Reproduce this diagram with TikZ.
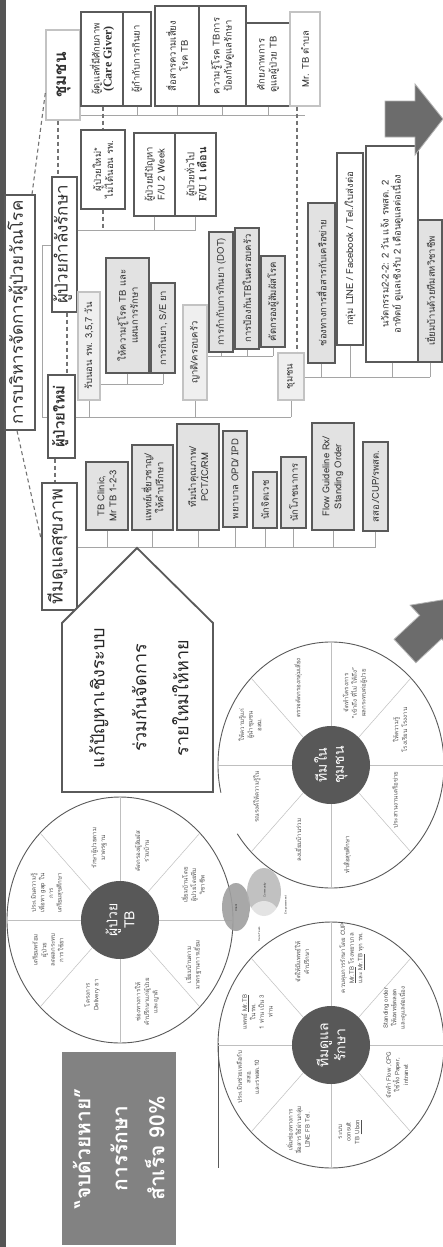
\documentclass[tikz,border=0pt]{standalone}
\usepackage{fontspec}
\setmainfont[Script=Thai]{Loma}
\newfontfamily\latinserif{Liberation Serif}
\usetikzlibrary{calc}
\definecolor{framegray}{RGB}{85,85,85}
\definecolor{boxline}{RGB}{90,90,90}
\definecolor{lightline}{RGB}{195,195,195}
\definecolor{boxgray}{RGB}{226,226,226}
\definecolor{linkgray}{RGB}{165,165,165}
\definecolor{hubgray}{RGB}{88,88,88}
\definecolor{arrowgray}{RGB}{108,108,108}
\definecolor{okgray}{RGB}{130,130,130}
\definecolor{textgray}{RGB}{50,50,50}
\begin{document}
\begin{tikzpicture}[x=1pt,y=-1pt,
  tbox/.style={rotate=90,draw=boxline,line width=1.3pt,fill=white,inner sep=1pt,align=center,text=textgray,font=\fontsize{9.5}{12}\selectfont},
  gbox/.style={tbox,fill=boxgray},
  lbox/.style={tbox,draw=lightline,fill=boxgray!55},
  topbox/.style={tbox,line width=1.4pt,text height=9pt,text depth=3pt,font=\fontsize{17}{19}\selectfont},
  link/.style={draw=linkgray,line width=0.9pt},
  dlink/.style={draw=boxline!85,line width=1.1pt,dash pattern=on 4pt off 3pt},
  rim/.style={draw=boxline,line width=0.9pt},
  spoke/.style={draw=gray!50,line width=0.5pt},
  hub/.style={circle,fill=hubgray,text=white,rotate=90,align=center,inner sep=0pt,minimum size=78pt,font=\fontsize{14}{17}\selectfont},
  wtxt/.style={rotate=90,align=center,inner sep=0pt,text=textgray!85,font=\fontsize{6.1}{8.6}\selectfont},
  vtxt/.style={rotate=90,inner sep=0pt,text=textgray,font=\fontsize{2.8}{3.2}\selectfont},
  bigarrow/.style={fill=arrowgray,draw=gray!60,line width=0.8pt}]
  \useasboundingbox (0,0) rectangle (442,1247);
  \fill[white] (0,0) rectangle (442,1247);
  \fill[framegray] (0,0) rectangle (6,1247);

  % title and main groups
  \node[topbox,minimum width=235,minimum height=30] (mgmt) at (20,312.5) {การบริหารจัดการผู้ป่วยวัณโรค};
  \node[topbox,draw=lightline,minimum width=90,minimum height=34,font=\bfseries\fontsize{17}{19}\selectfont] (comm) at (63,75) {ชุมชน};
  \node[topbox,minimum width=135,minimum height=25] (ontx) at (64.5,244.5) {ผู้ป่วยกำลังรักษา};
  \node[topbox,minimum width=83,minimum height=27,font=\bfseries\fontsize{15}{17}\selectfont] (newpt) at (61.5,416.5) {ผู้ป่วยใหม่};
  \node[topbox,minimum width=127,minimum height=35,font=\fontsize{18}{20}\selectfont] (hteam) at (59.5,546.5) {ทีมดูแลสุขภาพ};
  \draw[dlink] (mgmt.east -| 32,0) -- (comm.north |- 0,93);
  \draw[dlink] (mgmt.west -| 17,0) -- (hteam.north |- 0,540);
  \draw[dlink] (comm.west -| 58,0) -- (ontx.east -| 58,0);
  \draw[dlink] (ontx.west -| 67,0) -- (newpt.east -| 67,0);
  \draw[dlink] (newpt.west -| 55,0) -- (hteam.east -| 55,0);

  % community
  \node[tbox,minimum width=94,minimum height=42] (cg1) at (102,59) {ผู้ดูแลที่มีศักยภาพ\\{\latinserif\bfseries\fontsize{12}{13}\selectfont (Care Giver)}};
  \node[tbox,minimum width=94,minimum height=28] (cg2) at (137,59) {ผู้กำกับการกินยา};
  \node[tbox,minimum width=100,minimum height=44] (cg3) at (177,56) {สื่อสารความเสี่ยง\\โรค TB};
  \node[tbox,minimum width=100,minimum height=47] (cg4) at (222.5,56) {ความรู้โรค TBการ\\ป้องกัน/ดูแลรักษา};
  \node[tbox,minimum width=83,minimum height=44] (cg5) at (268,64.5) {ศักยภาพการ\\ดูแลผู้ป่วย TB};
  \node[tbox,draw=lightline,minimum width=94,minimum height=30] (cg6) at (305,59) {Mr. TB ตำบล};
  \draw[link] (comm.south |- 0,115) -- (cg6.west |- 0,115);
  \foreach \n in {cg2,cg3,cg4,cg5} \draw[link] (\n.west) -- (\n.west |- 0,115);

  % patients on treatment
  \node[tbox,minimum width=79,minimum height=44] (pt1) at (103,169.5) {ผู้ป่วยใหม่*\\ไม่ได้นอน รพ.};
  \node[tbox,minimum width=83,minimum height=41] (pt2) at (154.5,174.5) {ผู้ป่วยมีปัญหา\\F/U 2 Week};
  \node[tbox,minimum width=83,minimum height=41] (pt3) at (195.5,174.5) {ผู้ป่วยทั่วไป\\{\fontsize{11}{13}\selectfont\bfseries{\latinserif F/U 1} เดือน}};
  \draw[link] (ontx.south |- 0,230) -- (pt3.west |- 0,230);
  \foreach \n in {pt2,pt3} \draw[link] (\n.west) -- (\n.west |- 0,230);
  \draw[dlink] (cg1.west -| 103,0) -- (pt1.east);
  \draw[dlink] (pt1.west) -- (pt1.west |- 0,230);
  \draw[dlink] (cg6.west -| 297,0) -- (297,353);
  \draw[link] (ontx.north |- 0,245) -- (42,245) -- (42,417) -- (newpt.north |- 0,417);

  % new patients
  \node[lbox,minimum width=108,minimum height=22] (nw1) at (89,346) {รับนอน รพ. 3,5,7 วัน};
  \node[lbox,minimum width=95,minimum height=24] (nw2) at (195,352.5) {ญาติ/ครอบครัว};
  \node[lbox,minimum width=47,minimum height=26] (nw3) at (291,376.5) {ชุมชน};
  \draw[link] (newpt.south |- 0,417) -- (nw3.west |- 0,417);
  \foreach \n in {nw1,nw2,nw3} \draw[link] (\n.west) -- (\n.west |- 0,417);

  \node[gbox,minimum width=115,minimum height=43] (nw11) at (127.5,315.5) {ให้ความรู้โรค TB และ\\แผนการรักษา};
  \node[gbox,minimum width=90,minimum height=24] (nw12) at (163,328) {การกินยา, S/E ยา};
  \draw[link] (nw1.south |- 0,384) -- (nw12.west |- 0,384);
  \foreach \n in {nw11,nw12} \draw[link] (\n.west) -- (\n.west |- 0,384);

  \node[gbox,minimum width=120,minimum height=24] (nw21) at (221,292) {การกำกับการกินยา (DOT)};
  \node[gbox,minimum width=121,minimum height=24] (nw22) at (247,288.5) {การป้องกันTBในครอบครัว};
  \node[gbox,minimum width=91,minimum height=24] (nw23) at (273,301.5) {คัดกรองผู้สัมผัสโรค};
  \draw[link] (nw2.south |- 0,356) -- (nw23.west |- 0,356);
  \foreach \n in {nw21,nw22,nw23} \draw[link] (\n.west) -- (\n.west |- 0,356);

  \node[gbox,minimum width=160,minimum height=27] (nw31) at (321.5,283) {ช่องทางการสื่อสารกับเครือข่าย};
  \node[tbox,minimum width=192,minimum height=26] (nw32) at (350,249) {กลุ่ม LINE / Facebook / Tel./ใบส่งต่อ};
  \node[tbox,minimum width=216,minimum height=52] (nw33) at (392,254) {นวัตกรรม2-2-2: 2 วัน แจ้ง รพสต. 2\\อาทิตย์ ดูแลเชิงรับ 2 เดือนดูแลต่อเนื่อง};
  \node[gbox,minimum width=142,minimum height=24] (nw34) at (430,291) {เยี่ยมบ้านด้วยทีมสหวิชาชีพ};
  \draw[link] (nw3.south |- 0,377) -- (nw34.west |- 0,377);
  \foreach \n in {nw31,nw32,nw33,nw34} \draw[link] (\n.west) -- (\n.west |- 0,377);

  % health team
  \node[gbox,minimum width=68,minimum height=42] (ht1) at (107,496) {TB Clinic,\\Mr TB 1-2-3};
  \node[gbox,minimum width=85,minimum height=41] (ht2) at (152.5,487.5) {แพทย์เชี่ยวชาญ/\\ให้คำปรึกษา};
  \node[gbox,minimum width=106,minimum height=42] (ht3) at (198,477) {ทีมนำคุณภาพ/\\PCT/IC/RM};
  \node[gbox,minimum width=96,minimum height=24] (ht4) at (235,479) {พยาบาล OPD/ IPD};
  \node[gbox,minimum width=56,minimum height=24] (ht5) at (265,500) {นักจิตเวช};
  \node[gbox,minimum width=71,minimum height=25] (ht6) at (293.5,492.5) {นักโภชนาการ};
  \node[gbox,minimum width=107,minimum height=42] (ht7) at (333,476.5) {Flow Guideline Rx/\\Standing Order};
  \node[gbox,minimum width=89,minimum height=25] (ht8) at (375.5,486.5) {สสอ./CUP/รพสต.};
  \draw[link] (hteam.south |- 0,547) -- (ht8.west |- 0,547);
  \foreach \n in {ht1,ht2,ht3,ht4,ht5,ht6,ht7,ht8} \draw[link] (\n.west) -- (\n.west |- 0,547);

  % arrows and call-outs
  \draw[line width=1.8pt,draw=boxline,fill=white] (62,623) -- (137,548) -- (213,623) -- (213,792) -- (62,792) -- cycle;
  \node[rotate=90,align=center,text=black!85,font=\fontsize{18}{42}\selectfont] (fix) at (139,698) {แก้ปัญหาเชิงระบบ\\ร่วมกันจัดการ\\รายใหม่ให้หาย};
  \node[fill=okgray,rotate=90,minimum width=193,minimum height=114,align=center,text=white,font=\bfseries\fontsize{21}{37}\selectfont] (goal) at (119,1148.5) {“จบด้วยหาย”\\การรักษา\\สำเร็จ 90\%};
  \draw[bigarrow] (385,101) -- (415,101) -- (415,84) -- (443,119) -- (415,155) -- (415,137) -- (385,137) -- cycle;
  \begin{scope}[shift={(405,651)},rotate=43]
    \draw[bigarrow] (0,-16) -- (35,-16) -- (35,-30) -- (80,0) -- (35,30) -- (35,16) -- (0,16) -- cycle;
  \end{scope}

  % wheels
  \coordinate (w1) at (120,920);
  \coordinate (w2) at (331,765);
  \coordinate (w3) at (331,1045);
  \draw[rim] (w1) ellipse[x radius=113,y radius=123];
  \draw[rim] ($(w2)+(167:113 and 123)$) arc[start angle=167,end angle=506,x radius=113,y radius=123];
  \draw[rim] (w3) ellipse[x radius=113,y radius=123];
  \draw[rim,line width=0.7pt] (218,1043) -- (218,1168);
  \foreach \w in {w1,w2,w3}
    \foreach \a in {0,45,...,315}
      \draw[spoke] ($(\w)+(\a:39)$) -- ($(\w)+(\a:113 and 123)$);
  \node[hub] (hubpt) at (w1) {ผู้ป่วย\\TB};
  \node[hub] (hubcm) at (w2) {ทีมใน\\ชุมชน};
  \node[hub] (hubcare) at (w3) {ทีมดูแล\\รักษา};

  \node[wtxt] (pt-a) at (47,893) {ประเมินความรู้\\เพื่อหา gap ใน\\การ\\เตรียมสุขศึกษา};
  \node[wtxt] (pt-b) at (99,848) {รักษาผู้ป่วยตาม\\มาตรฐาน};
  \node[wtxt] (pt-c) at (142,851) {คัดกรองผู้สัมผัส\\ร่วมบ้าน};
  \node[wtxt] (pt-d) at (193,885) {เยี่ยมบ้านโดย\\ผู้ป่วยโดยทีม\\วิชาชีพ};
  \node[wtxt] (pt-e) at (193,965) {เยี่ยมบ้านตาม\\มาตรฐานการเยี่ยม};
  \node[wtxt] (pt-f) at (147,1002) {ช่องทางการให้\\คำปรึกษาแก่ผู้ป่วย\\และญาติ};
  \node[wtxt] (pt-g) at (92,995) {โครงการ\\Delivery ยา};
  \node[wtxt] (pt-h) at (48,950) {เตรียมพร้อม\\ผู้ป่วย\\ลดผลกระทบ\\การใช้ยา};

  \node[wtxt] (cm-a) at (250,725) {ให้ความรู้แก่\\ผู้นำชุมชน\\อสม.};
  \node[wtxt] (cm-b) at (298,688) {ตรวจคัดกรองกลุ่มเสี่ยง};
  \node[wtxt] (cm-c) at (355,693) {จัดทำโครงการ\\“เข้าถึง ที่ไม่ ให้ถึง”\\ผลกระทบต่อผู้ป่วย};
  \node[wtxt] (cm-d) at (400,730) {ให้ความรู้\\โรงเรียน โรงงาน};
  \node[wtxt] (cm-e) at (395,800) {ประสานงานเครือข่าย};
  \node[wtxt] (cm-f) at (347,855) {ทำสื่อสุขศึกษา};
  \node[wtxt] (cm-g) at (298,840) {ลงเยี่ยมบ้านร่วม};
  \node[wtxt] (cm-h) at (257,797) {รณรงค์ให้ความรู้ใน};

  \node[wtxt] (ca-a) at (257,1012) {แพทย์ \underline{Mr.TB}\\ในรพ.\\1 ท่าน เป็น 3\\ท่าน};
  \node[wtxt] (ca-b) at (302,962) {จัดให้มีแพทย์ให้\\คำปรึกษา};
  \node[wtxt] (ca-c) at (352,958) {ควบคุมการรักษาโดย CUP\\\underline{Mr.TB} โรงพยาบาล\\และ \underline{Mr.TB} ทุก รพ.};
  \node[wtxt] (ca-d) at (395,1008) {Standing order\\ให้แพทย์ตลอด\\และดูแลต่อเนื่อง};
  \node[wtxt] (ca-e) at (397,1075) {จัดทำ Flow ,CPG\\ใช้ทั้ง Paper,\\intranet};
  \node[wtxt] (ca-f) at (350,1132) {ระบบ\\consult\\TB \underline{Ubon}};
  \node[wtxt] (ca-g) at (298,1130) {เพิ่มช่องทางการ\\สื่อสารใช้ผ่านกลุ่ม\\LINE FB Tel.};
  \node[wtxt] (ca-h) at (248,1077) {ประเมินช่วยเหลือกับ\\สสอ.\\และรพสต.10};

  % venn
  \fill[gray!75,opacity=0.9] (236,907) ellipse[x radius=14,y radius=24];
  \fill[gray!60,opacity=0.8] (264,892) ellipse[x radius=17,y radius=24];
  \fill[white,opacity=0.55] (264,916) circle[radius=15];
  \node[vtxt] (vclient) at (236,908) {Client};
  \node[vtxt] (vcomm) at (265,890) {Community};
  \node[vtxt] (vcare) at (259,934) {Care Team};
  \node[vtxt] (vemp) at (286,905) {Empowerment};
\end{tikzpicture}
\end{document}
